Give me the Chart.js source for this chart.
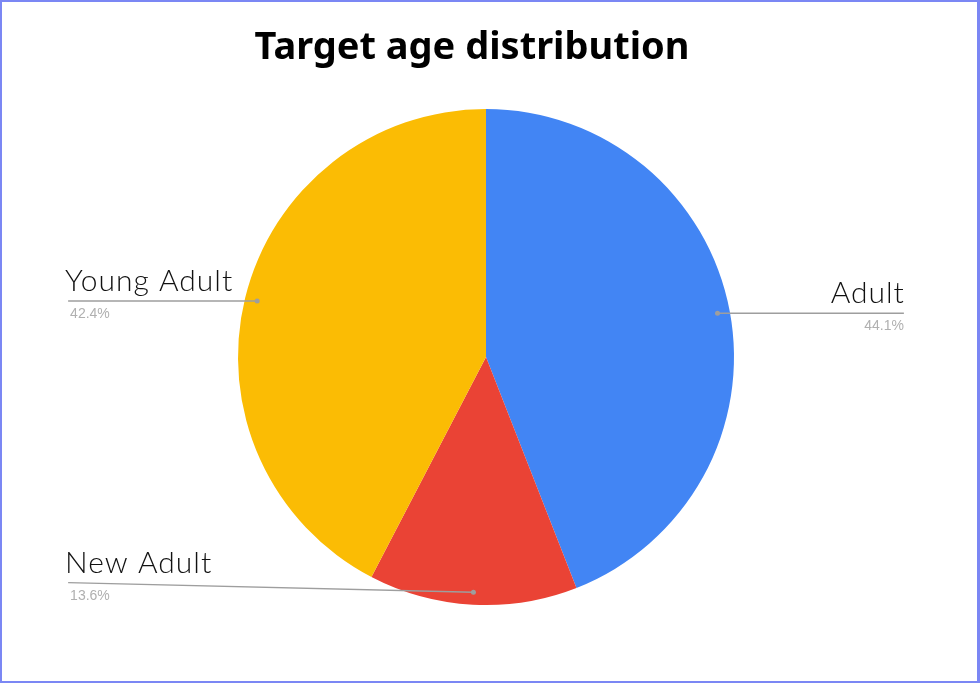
<!DOCTYPE html>
<html>
<head>
<meta charset="utf-8">
<script src="https://cdn.jsdelivr.net/npm/chart.js@4.4.0/dist/chart.umd.min.js"></script>
<style>
  body { margin: 0; background: #fff; }
  #marco {
    width: 980px; height: 683px; box-sizing: border-box;
    border: 2px solid #7b87f4; border-right-width: 3px;
  }
  canvas { display: block; }
</style>
</head>
<body>
<div id="marco"><canvas id="myChart" width="975" height="679"></canvas></div>
<script>
const titulo = "Target age distribution";
const categorias = ["Adult", "New Adult", "Young Adult"];
const porcentajes = [44.1, 13.6, 42.4];
const colores = ["#4285F4", "#EA4335", "#FBBC04"];

const chart = document.getElementById("myChart");

// titulo un poco corrido a la izquierda, como en el original
const tituloPlugin = {
  id: "tituloCorrido",
  afterDraw(grafico) {
    const ctx = grafico.ctx;
    ctx.save();
    ctx.fillStyle = "#000";
    ctx.font = "bold 38px 'Noto Sans'";
    ctx.textAlign = "center";
    ctx.textBaseline = "alphabetic";
    ctx.fillText(titulo, 470, 57);
    ctx.restore();
  }
};

// etiquetas con linea guia, al estilo de Google Sheets
const etiquetasPlugin = {
  id: "etiquetas",
  afterDatasetsDraw(grafico) {
    const ctx = grafico.ctx;
    const meta = grafico.getDatasetMeta(0);
    meta.data.forEach((arco, i) => {
      const { x, y, startAngle, endAngle, outerRadius } = arco.getProps(
        ["x", "y", "startAngle", "endAngle", "outerRadius"], true);
      const medio = (startAngle + endAngle) / 2;
      const px = x + Math.cos(medio) * outerRadius * 0.95;
      const py = y + Math.sin(medio) * outerRadius * 0.95;
      const derecha = Math.cos(medio) > 0;
      const finX = derecha ? x + outerRadius * 1.685 : x - outerRadius * 1.685;
      const finY = Math.min(py, y + outerRadius * 0.91);

      ctx.save();
      ctx.strokeStyle = "#9e9e9e";
      ctx.lineWidth = 1.3;
      ctx.beginPath();
      ctx.moveTo(px, py);
      ctx.lineTo(finX, finY);
      ctx.stroke();
      ctx.fillStyle = "#9e9e9e";
      ctx.beginPath();
      ctx.arc(px, py, 2.5, 0, Math.PI * 2);
      ctx.fill();

      ctx.textAlign = derecha ? "right" : "left";
      ctx.textBaseline = "alphabetic";
      ctx.fillStyle = "#111";
      ctx.font = "300 30px Lato";
      ctx.letterSpacing = "1px";
      ctx.fillText(categorias[i], derecha ? finX + 1 : finX - 3, finY - 10);
      ctx.letterSpacing = "0px";
      ctx.fillStyle = "#b0b0b0";
      ctx.font = "14px 'Liberation Sans', Arial";
      ctx.fillText(porcentajes[i].toFixed(1) + "%", derecha ? finX : finX + 2, finY + 17);
      ctx.restore();
    });
  }
};

const config = {
  type: "pie",
  data: {
    labels: categorias,
    datasets: [{
      data: porcentajes,
      backgroundColor: colores,
      borderWidth: 0
    }]
  },
  options: {
    responsive: false,
    animation: false,
    layout: { padding: { top: 107, left: 0, right: 7, bottom: 76 } },
    plugins: {
      legend: { display: false },
      tooltip: { enabled: false },
      title: { display: false }
    }
  },
  plugins: [etiquetasPlugin, tituloPlugin]
};

new Chart(chart, config);
</script>
</body>
</html>
